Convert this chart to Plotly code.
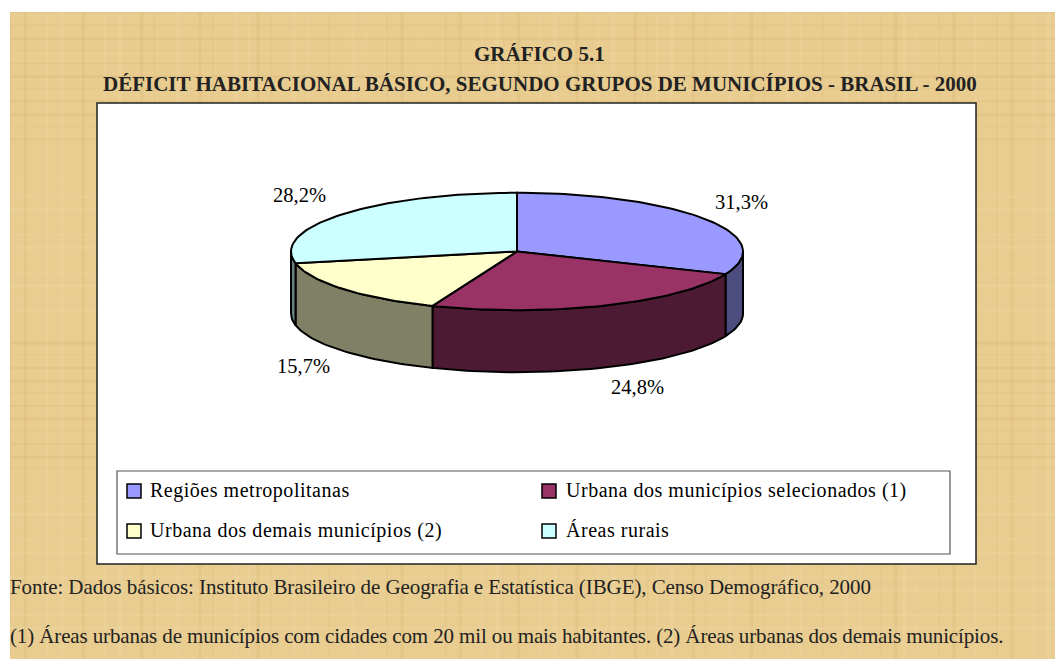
import math
import plotly.graph_objects as go

# ---- data ----
categories = ["Regiões metropolitanas", "Urbana dos municípios selecionados (1)",
              "Urbana dos demais municípios (2)", "Áreas rurais"]
shares = [31.3, 24.8, 15.7, 28.2]
share_labels = ["31,3%", "24,8%", "15,7%", "28,2%"]
top_colors = ["#9999FF", "#993366", "#FFFFCC", "#CCFFFF"]
side_colors = ["#4D4D80", "#4D1A33", "#808066", "#668080"]
title_lines = ["GRÁFICO 5.1",
               "DÉFICIT HABITACIONAL BÁSICO, SEGUNDO GRUPOS DE MUNICÍPIOS - BRASIL - 2000"]
source_text = "Fonte: Dados básicos: Instituto Brasileiro de Geografia e Estatística (IBGE), Censo Demográfico, 2000"
note_text = "(1) Áreas urbanas de municípios com cidades com 20 mil ou mais habitantes. (2) Áreas urbanas dos demais municípios."

# ---- geometry of the picture (pixels) ----
W, H = 1055, 659
CX, CY, RX, RY, DEPTH = 517, 251.5, 226, 58.7, 62
SERIF = "Liberation Serif"
INK = "#222222"
PAPER = "#E8CC90"


def pt(deg, drop=0):
    a = math.radians(deg)
    return CX + RX * math.sin(a), CY - RY * math.cos(a) + drop


def arc(a0, a1, drop=0):
    n = max(2, int(abs(a1 - a0) / 1.5) + 1)
    return [pt(a0 + (a1 - a0) * i / (n - 1), drop) for i in range(n)]


fig = go.Figure()
total = sum(shares)
edges = [0]
for s in shares:
    edges.append(edges[-1] + s / total * 360)

for i in range(4):
    a0, a1 = max(edges[i], 90), min(edges[i + 1], 270)
    if a1 <= a0:
        continue
    poly = arc(a0, a1) + arc(a1, a0, DEPTH)
    poly.append(poly[0])
    fig.add_trace(go.Scatter(x=[p[0] for p in poly], y=[p[1] for p in poly], mode="lines",
                             fill="toself", fillcolor=side_colors[i],
                             line=dict(color="black", width=2), hoverinfo="skip", showlegend=False))
for i in range(4):
    poly = [(CX, CY)] + arc(edges[i], edges[i + 1]) + [(CX, CY)]
    fig.add_trace(go.Scatter(x=[p[0] for p in poly], y=[p[1] for p in poly], mode="lines",
                             fill="toself", fillcolor=top_colors[i], name=categories[i],
                             line=dict(color="black", width=2), showlegend=False))

key_x = [134, 549, 134, 549]
key_y = [491, 491, 531, 531]
fig.add_trace(go.Scatter(x=key_x, y=key_y, mode="markers", hoverinfo="skip", showlegend=False,
                         marker=dict(symbol="square", size=14, color=top_colors,
                                     line=dict(color="black", width=1.5))))

annotations = []


def label(x, y, text, size=19, anchor="center", bold=False, spacing=None, color=INK):
    t = f"<b>{text}</b>" if bold else text
    if spacing is not None:
        t = f'<span style="letter-spacing:{spacing}px">{t}</span>'
    annotations.append(dict(x=x, y=y, xref="x", yref="y", text=t, showarrow=False,
                            xanchor=anchor, yanchor="middle",
                            font=dict(family=SERIF, size=size, color=color)))


label(539.5, 54, title_lines[0], size=21, bold=True)
label(540, 84, title_lines[1], size=21, bold=True)
label(8, 587, source_text, size=21, anchor="left", spacing=-0.08)
label(8, 636, note_text, size=21, anchor="left", spacing=-0.125)
label_pos = [(741, 202), (637, 387), (303, 366), (299, 195)]
for (lx, ly), t in zip(label_pos, share_labels):
    label(lx, ly, t, size=20.5, color="black")
for kx, ky, name in zip(key_x, key_y, categories):
    label(kx + (15 if kx > 300 else 14), ky - 1, name, size=20, anchor="left", spacing=0.52, color="black")

shapes = [
    dict(type="rect", x0=10, y0=12, x1=W, y1=H, fillcolor=PAPER, line_width=0, layer="below"),
]
for k in range(60):
    x = 10 + (k * 0.618034 % 1) * (W - 10)
    shapes.append(dict(type="rect", x0=x, x1=x + 1 + k % 4, y0=12, y1=H, layer="below", line_width=0,
                       fillcolor="#FFF2CC" if k % 2 else "#C99A4A", opacity=0.12))
for k in range(44):
    y = 12 + (k * 0.754878 % 1) * (H - 12)
    shapes.append(dict(type="rect", x0=10, x1=W, y0=y, y1=y + 1 + k % 3, layer="below", line_width=0,
                       fillcolor="#FFF2CC" if k % 2 else "#C99A4A", opacity=0.12))
shapes += [
    dict(type="rect", x0=97, y0=103, x1=976, y1=564, fillcolor="white",
         line=dict(color="#222222", width=1.5), layer="below"),
    dict(type="rect", x0=117, y0=471, x1=950, y1=554, fillcolor="white",
         line=dict(color="#555555", width=1.2), layer="below"),
]

fig.update_layout(
    width=W, height=H, margin=dict(l=0, r=0, t=0, b=0), paper_bgcolor="white", plot_bgcolor="rgba(0,0,0,0)",
    xaxis=dict(range=[0, W], visible=False, fixedrange=True),
    yaxis=dict(range=[H, 0], visible=False, fixedrange=True),
    shapes=shapes, annotations=annotations, showlegend=False,
)
fig.write_html("out.html", config={"displayModeBar": False},
               post_script="document.body.style.margin='0';document.body.style.overflow='hidden';")
